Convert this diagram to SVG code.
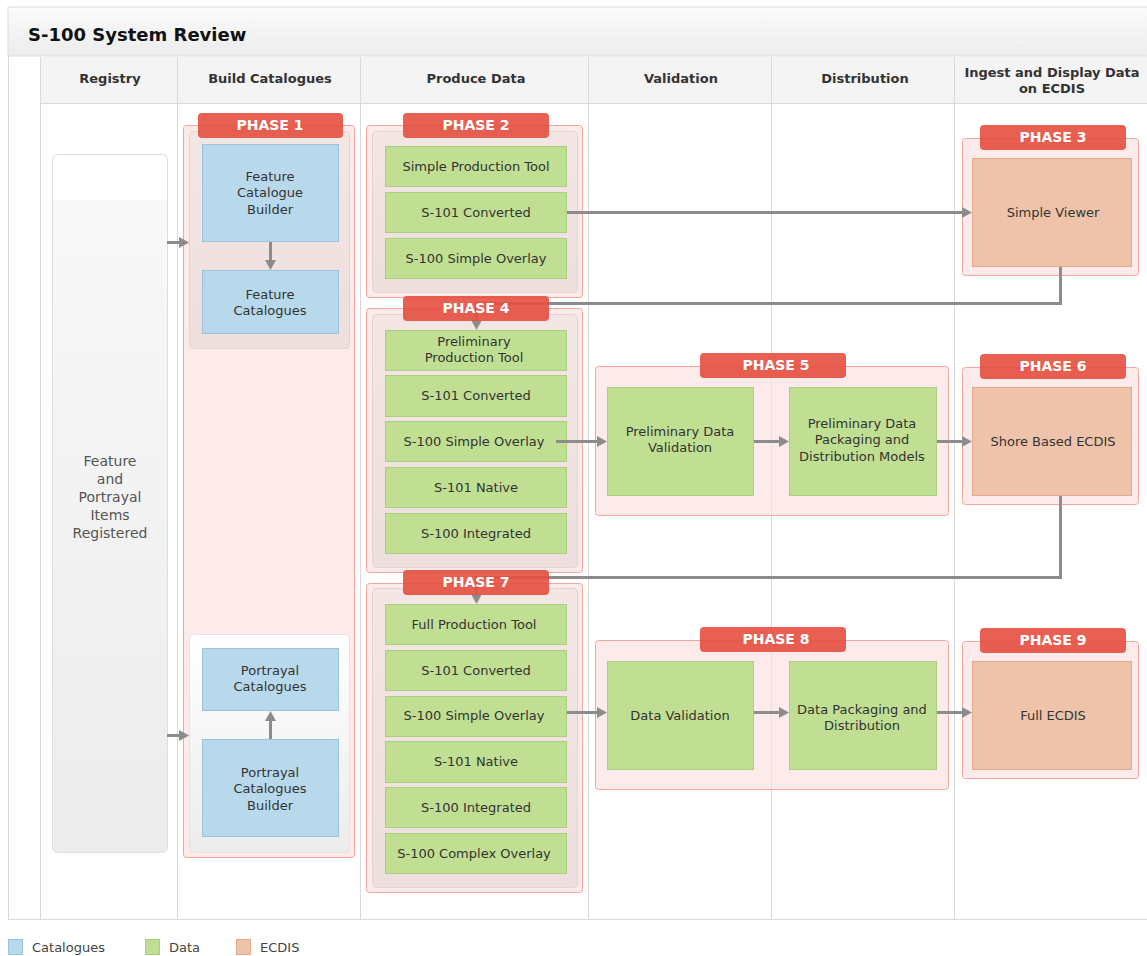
<svg xmlns="http://www.w3.org/2000/svg" width="1147" height="956" viewBox="0 0 1147 956">
  <defs>
    <style>
      text { font-family: "DejaVu Sans", Verdana, sans-serif; }
      .title { font-size: 18px; font-weight: bold; fill: #111; }
      .hdr { font-size: 13px; font-weight: bold; fill: #333; text-anchor: middle; }
      .lbl { font-size: 13px; fill: #333; text-anchor: middle; }
      .reg { font-size: 14px; fill: #555; text-anchor: middle; }
      .tag { font-size: 14px; font-weight: bold; fill: #fff; text-anchor: middle; }
      .leg { font-size: 13px; fill: #444; }
      .grid { stroke: #d9d9d9; stroke-width: 1; fill: none; }
      .phase { fill: #fcdede; fill-opacity: 0.65; stroke: #f5a79e; stroke-width: 1; }
      .tagbox { fill: #e44f3f; opacity: 0.9; }
      .inner { fill: url(#innerPink); stroke: #e3d3d3; stroke-width: 1; }
      .innerGrey { fill: url(#innerGrey); stroke: #e3e3e3; stroke-width: 1; }
      .cat { fill: #b8d9ec; stroke: #98c4dc; stroke-width: 1; }
      .dat { fill: #c1df92; stroke: #a8d07e; stroke-width: 1; }
      .ecd { fill: #eec3a9; stroke: #e2a98b; stroke-width: 1; }
      .conn { stroke: #8c8c8c; stroke-width: 3; fill: none; marker-end: url(#arrow); }
    </style>
    <linearGradient id="titleGrad" x1="0" y1="0" x2="0" y2="1">
      <stop offset="0" stop-color="#fbfbfb"/>
      <stop offset="1" stop-color="#ececec"/>
    </linearGradient>
    <linearGradient id="regGrad" x1="0" y1="0" x2="0" y2="1">
      <stop offset="0" stop-color="#ffffff"/>
      <stop offset="0.065" stop-color="#ffffff"/>
      <stop offset="0.066" stop-color="#f8f8f8"/>
      <stop offset="1" stop-color="#ececec"/>
    </linearGradient>
    <linearGradient id="innerPink" x1="0" y1="0" x2="0" y2="1">
      <stop offset="0" stop-color="#f5e6e6"/>
      <stop offset="1" stop-color="#eedede"/>
    </linearGradient>
    <linearGradient id="innerGrey" x1="0" y1="0" x2="0" y2="1">
      <stop offset="0" stop-color="#ffffff"/>
      <stop offset="1" stop-color="#ececec"/>
    </linearGradient>
    <marker id="arrow" markerUnits="userSpaceOnUse" markerWidth="11" markerHeight="11" refX="5" refY="5.5" orient="auto">
      <path d="M0,0 L10,5.5 L0,11 z" fill="#8c8c8c"/>
    </marker>
  </defs>

  <!-- background and frame -->
  <rect x="0" y="0" width="1147" height="956" fill="#ffffff"/>
  <g id="frame">
    <rect x="8" y="7" width="1145" height="49" fill="url(#titleGrad)" stroke="#dcdcdc"/>
    <text class="title" x="28" y="41">S-100 System Review</text>
    <rect x="40" y="57" width="1110" height="46" fill="#f4f4f4"/>
    <path class="grid" d="M8.5,56 V920 M40.5,57 V920 M177.5,57 V920 M360.5,57 V920 M588.5,57 V920 M771.5,57 V920 M954.5,57 V920 M40,103.5 H1147 M8,919.5 H1147"/>
    <text class="hdr" x="110" y="83">Registry</text>
    <text class="hdr" x="270" y="83">Build Catalogues</text>
    <text class="hdr" x="476" y="83">Produce Data</text>
    <text class="hdr" x="681" y="83">Validation</text>
    <text class="hdr" x="865" y="83">Distribution</text>
    <text class="hdr" x="1052" y="77">Ingest and Display Data</text>
    <text class="hdr" x="1052" y="93">on ECDIS</text>
  </g>

  <!-- registry -->
  <g id="registry">
    <rect x="52.5" y="154.5" width="115" height="698" rx="5" fill="url(#regGrad)" stroke="#dedede"/>
    <text class="reg" x="110" y="466">Feature</text>
    <text class="reg" x="110" y="484">and</text>
    <text class="reg" x="110" y="502">Portrayal</text>
    <text class="reg" x="110" y="520">Items</text>
    <text class="reg" x="110" y="538">Registered</text>
  </g>

  <!-- phase containers -->
  <g id="phase1">
    <rect class="phase" x="183.5" y="125.5" width="171" height="732" rx="3"/>
    <rect class="inner" x="189.5" y="131.5" width="160" height="217" rx="4"/>
    <rect class="innerGrey" x="189.5" y="634.5" width="160" height="218" rx="4"/>
  </g>
  <g id="phase2">
    <rect class="phase" x="366.5" y="125.5" width="216" height="172" rx="3"/>
    <rect class="inner" x="372.5" y="131.5" width="205" height="161" rx="4"/>
  </g>
  <g id="phase3">
    <rect class="phase" x="962.5" y="138.5" width="176" height="137" rx="3"/>
  </g>
  <g id="phase4">
    <rect class="phase" x="366.5" y="308.5" width="216" height="264" rx="3"/>
    <rect class="inner" x="372.5" y="314.5" width="205" height="253" rx="4"/>
  </g>
  <g id="phase5">
    <rect class="phase" x="595.5" y="366.5" width="353" height="149" rx="3"/>
  </g>
  <g id="phase6">
    <rect class="phase" x="962.5" y="367.5" width="176" height="137" rx="3"/>
  </g>
  <g id="phase7">
    <rect class="phase" x="366.5" y="583.5" width="216" height="309" rx="3"/>
    <rect class="inner" x="372.5" y="588.5" width="205" height="299" rx="4"/>
  </g>
  <g id="phase8">
    <rect class="phase" x="595.5" y="640.5" width="353" height="149" rx="3"/>
  </g>
  <g id="phase9">
    <rect class="phase" x="962.5" y="641.5" width="176" height="137" rx="3"/>
  </g>

  <!-- catalogue nodes -->
  <g id="feature-catalogue-builder">
    <rect class="cat" x="202.5" y="144.5" width="136" height="97"/>
    <text class="lbl" x="270" y="181">Feature</text>
    <text class="lbl" x="270" y="197">Catalogue</text>
    <text class="lbl" x="270" y="214">Builder</text>
  </g>
  <g id="feature-catalogues">
    <rect class="cat" x="202.5" y="270.5" width="136" height="63"/>
    <text class="lbl" x="270" y="299">Feature</text>
    <text class="lbl" x="270" y="315">Catalogues</text>
  </g>
  <g id="portrayal-catalogues">
    <rect class="cat" x="202.5" y="648.5" width="136" height="62"/>
    <text class="lbl" x="270" y="675">Portrayal</text>
    <text class="lbl" x="270" y="691">Catalogues</text>
  </g>
  <g id="portrayal-catalogues-builder">
    <rect class="cat" x="202.5" y="739.5" width="136" height="97"/>
    <text class="lbl" x="270" y="777">Portrayal</text>
    <text class="lbl" x="270" y="793">Catalogues</text>
    <text class="lbl" x="270" y="810">Builder</text>
  </g>

  <!-- phase 2 data -->
  <g id="p2-simple-production-tool">
    <rect class="dat" x="385.5" y="146.5" width="181" height="40"/>
    <text class="lbl" x="476" y="171">Simple Production Tool</text>
  </g>
  <g id="p2-s101-converted">
    <rect class="dat" x="385.5" y="192.5" width="181" height="40"/>
    <text class="lbl" x="476" y="217">S-101 Converted</text>
  </g>
  <g id="p2-s100-simple-overlay">
    <rect class="dat" x="385.5" y="238.5" width="181" height="40"/>
    <text class="lbl" x="476" y="263">S-100 Simple Overlay</text>
  </g>

  <!-- phase 4 data -->
  <g id="p4-preliminary-production-tool">
    <rect class="dat" x="385.5" y="330.5" width="181" height="40"/>
    <text class="lbl" x="474" y="346">Preliminary</text>
    <text class="lbl" x="474" y="362">Production Tool</text>
  </g>
  <g id="p4-s101-converted">
    <rect class="dat" x="385.5" y="375.5" width="181" height="41"/>
    <text class="lbl" x="476" y="400">S-101 Converted</text>
  </g>
  <g id="p4-s100-simple-overlay">
    <rect class="dat" x="385.5" y="421.5" width="181" height="40"/>
    <text class="lbl" x="474" y="446">S-100 Simple Overlay</text>
  </g>
  <g id="p4-s101-native">
    <rect class="dat" x="385.5" y="467.5" width="181" height="40"/>
    <text class="lbl" x="476" y="492">S-101 Native</text>
  </g>
  <g id="p4-s100-integrated">
    <rect class="dat" x="385.5" y="513.5" width="181" height="40"/>
    <text class="lbl" x="476" y="538">S-100 Integrated</text>
  </g>

  <!-- phase 7 data -->
  <g id="p7-full-production-tool">
    <rect class="dat" x="385.5" y="604.5" width="181" height="40"/>
    <text class="lbl" x="474" y="629">Full Production Tool</text>
  </g>
  <g id="p7-s101-converted">
    <rect class="dat" x="385.5" y="650.5" width="181" height="40"/>
    <text class="lbl" x="476" y="675">S-101 Converted</text>
  </g>
  <g id="p7-s100-simple-overlay">
    <rect class="dat" x="385.5" y="696.5" width="181" height="40"/>
    <text class="lbl" x="474" y="720">S-100 Simple Overlay</text>
  </g>
  <g id="p7-s101-native">
    <rect class="dat" x="385.5" y="741.5" width="181" height="41"/>
    <text class="lbl" x="476" y="766">S-101 Native</text>
  </g>
  <g id="p7-s100-integrated">
    <rect class="dat" x="385.5" y="787.5" width="181" height="40"/>
    <text class="lbl" x="476" y="812">S-100 Integrated</text>
  </g>
  <g id="p7-s100-complex-overlay">
    <rect class="dat" x="385.5" y="833.5" width="181" height="40"/>
    <text class="lbl" x="474" y="858">S-100 Complex Overlay</text>
  </g>

  <!-- validation and distribution -->
  <g id="preliminary-data-validation">
    <rect class="dat" x="607.5" y="387.5" width="146" height="108"/>
    <text class="lbl" x="680" y="436">Preliminary Data</text>
    <text class="lbl" x="680" y="452">Validation</text>
  </g>
  <g id="preliminary-data-packaging">
    <rect class="dat" x="789.5" y="387.5" width="147" height="108"/>
    <text class="lbl" x="862" y="428">Preliminary Data</text>
    <text class="lbl" x="862" y="444">Packaging and</text>
    <text class="lbl" x="862" y="461">Distribution Models</text>
  </g>
  <g id="data-validation">
    <rect class="dat" x="607.5" y="661.5" width="146" height="108"/>
    <text class="lbl" x="680" y="720">Data Validation</text>
  </g>
  <g id="data-packaging">
    <rect class="dat" x="789.5" y="661.5" width="147" height="108"/>
    <text class="lbl" x="862" y="714">Data Packaging and</text>
    <text class="lbl" x="862" y="730">Distribution</text>
  </g>

  <!-- ECDIS nodes -->
  <g id="simple-viewer">
    <rect class="ecd" x="972.5" y="158.5" width="159" height="108"/>
    <text class="lbl" x="1053" y="217">Simple Viewer</text>
  </g>
  <g id="shore-based-ecdis">
    <rect class="ecd" x="972.5" y="387.5" width="159" height="108"/>
    <text class="lbl" x="1053" y="446">Shore Based ECDIS</text>
  </g>
  <g id="full-ecdis">
    <rect class="ecd" x="972.5" y="661.5" width="159" height="108"/>
    <text class="lbl" x="1053" y="720">Full ECDIS</text>
  </g>

  <!-- connectors -->
  <g id="connectors">
    <path class="conn" d="M167,242.5 H184"/>
    <path class="conn" d="M167,735.5 H184"/>
    <path class="conn" d="M270.5,242 V265"/>
    <path class="conn" d="M270.5,739 V716"/>
    <path class="conn" d="M567,212.5 H967"/>
    <path class="conn" d="M1060.5,267 V303.5 H476.5 V325"/>
    <path class="conn" d="M556,441.5 H602"/>
    <path class="conn" d="M754,441.5 H784"/>
    <path class="conn" d="M937,441.5 H967"/>
    <path class="conn" d="M1060.5,496 V577.5 H476.5 V599"/>
    <path class="conn" d="M567,712.5 H602"/>
    <path class="conn" d="M754,712.5 H784"/>
    <path class="conn" d="M937,712.5 H967"/>
  </g>

  <!-- phase tags -->
  <g id="phase-tags">
    <rect class="tagbox" x="198" y="113" width="145" height="25" rx="4"/>
    <text class="tag" x="270" y="130">PHASE 1</text>
    <rect class="tagbox" x="403" y="113" width="146" height="25" rx="4"/>
    <text class="tag" x="476" y="130">PHASE 2</text>
    <rect class="tagbox" x="980" y="125" width="146" height="25" rx="4"/>
    <text class="tag" x="1053" y="142">PHASE 3</text>
    <rect class="tagbox" x="403" y="296" width="146" height="25" rx="4"/>
    <text class="tag" x="476" y="313">PHASE 4</text>
    <rect class="tagbox" x="700" y="353" width="146" height="25" rx="4"/>
    <text class="tag" x="776" y="370">PHASE 5</text>
    <rect class="tagbox" x="980" y="354" width="146" height="25" rx="4"/>
    <text class="tag" x="1053" y="371">PHASE 6</text>
    <rect class="tagbox" x="403" y="570" width="146" height="25" rx="4"/>
    <text class="tag" x="476" y="587">PHASE 7</text>
    <rect class="tagbox" x="700" y="627" width="146" height="25" rx="4"/>
    <text class="tag" x="776" y="644">PHASE 8</text>
    <rect class="tagbox" x="980" y="628" width="146" height="25" rx="4"/>
    <text class="tag" x="1053" y="645">PHASE 9</text>
  </g>

  <!-- legend -->
  <g id="legend">
    <rect class="cat" x="8.5" y="939.5" width="14" height="15"/>
    <text class="leg" x="32" y="952">Catalogues</text>
    <rect class="dat" x="145.5" y="939.5" width="14" height="15"/>
    <text class="leg" x="169" y="952">Data</text>
    <rect class="ecd" x="236.5" y="939.5" width="14" height="15"/>
    <text class="leg" x="260" y="952">ECDIS</text>
  </g>
</svg>
